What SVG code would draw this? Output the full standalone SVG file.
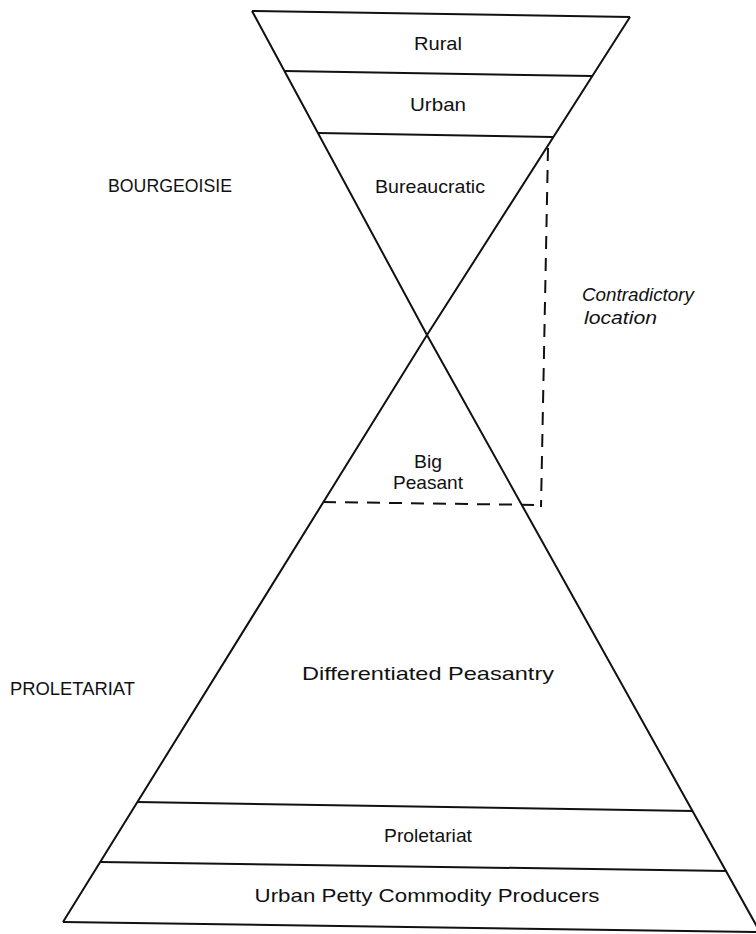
<svg xmlns="http://www.w3.org/2000/svg" width="756" height="934" viewBox="0 0 756 934">
  <style>
    .edge { fill: none; stroke: #111; stroke-width: 2; stroke-linejoin: miter; }
    .sep { fill: none; stroke: #111; stroke-width: 2; }
    .dash { fill: none; stroke: #111; stroke-width: 2; stroke-dasharray: 13 9; }
    .lbl { font-family: "Liberation Sans", Arial, sans-serif; font-size: 19px; fill: #111; text-anchor: middle; }
    .side { font-family: "Liberation Sans", Arial, sans-serif; font-size: 18px; fill: #111; }
    .note { font-family: "Liberation Sans", Arial, sans-serif; font-size: 18px; font-style: italic; fill: #111; }
  </style>
  <rect width="756" height="934" fill="#fff"/>

  <g id="outline">
    <line class="edge" x1="252" y1="11" x2="630" y2="17"/>
    <polyline class="edge" points="252,11 427,335 760,932"/>
    <polyline class="edge" points="630,17 427,335 63,922"/>
    <line class="edge" x1="63" y1="922" x2="760" y2="932"/>
  </g>

  <g id="rural">
    <text class="lbl" x="438" y="50" textLength="48" lengthAdjust="spacingAndGlyphs">Rural</text>
    <line class="sep" x1="284" y1="71" x2="592" y2="76"/>
  </g>
  <g id="urban">
    <text class="lbl" x="438" y="111" textLength="56" lengthAdjust="spacingAndGlyphs">Urban</text>
    <line class="sep" x1="318" y1="133" x2="553" y2="137"/>
  </g>
  <g id="bureaucratic">
    <text class="lbl" x="430" y="193" textLength="110" lengthAdjust="spacingAndGlyphs">Bureaucratic</text>
  </g>
  <g id="big-peasant">
    <text class="lbl" x="428" y="468" textLength="28" lengthAdjust="spacingAndGlyphs">Big</text>
    <text class="lbl" x="428" y="489" textLength="70" lengthAdjust="spacingAndGlyphs">Peasant</text>
  </g>
  <g id="differentiated-peasantry">
    <text class="lbl" x="428" y="680" textLength="252" lengthAdjust="spacingAndGlyphs">Differentiated Peasantry</text>
  </g>
  <g id="proletariat">
    <line class="sep" x1="137" y1="802" x2="693" y2="811"/>
    <text class="lbl" x="428" y="842" textLength="88" lengthAdjust="spacingAndGlyphs">Proletariat</text>
    <line class="sep" x1="100" y1="862" x2="727" y2="871"/>
  </g>
  <g id="urban-petty">
    <text class="lbl" x="427" y="902" textLength="345" lengthAdjust="spacingAndGlyphs">Urban Petty Commodity Producers</text>
  </g>

  <g id="bourgeoisie-label">
    <text class="side" x="108" y="192" textLength="124" lengthAdjust="spacingAndGlyphs">BOURGEOISIE</text>
  </g>
  <g id="proletariat-label">
    <text class="side" x="10" y="695" textLength="125" lengthAdjust="spacingAndGlyphs">PROLETARIAT</text>
  </g>

  <g id="connectors">
    <line class="dash" x1="548" y1="148" x2="541" y2="507"/>
    <line class="dash" x1="323" y1="502" x2="540" y2="505"/>
  </g>

  <g id="contradictory-location">
    <text class="note" x="582" y="301" textLength="112" lengthAdjust="spacingAndGlyphs">Contradictory</text>
    <text class="note" x="584" y="324" textLength="73" lengthAdjust="spacingAndGlyphs">location</text>
  </g>
</svg>
